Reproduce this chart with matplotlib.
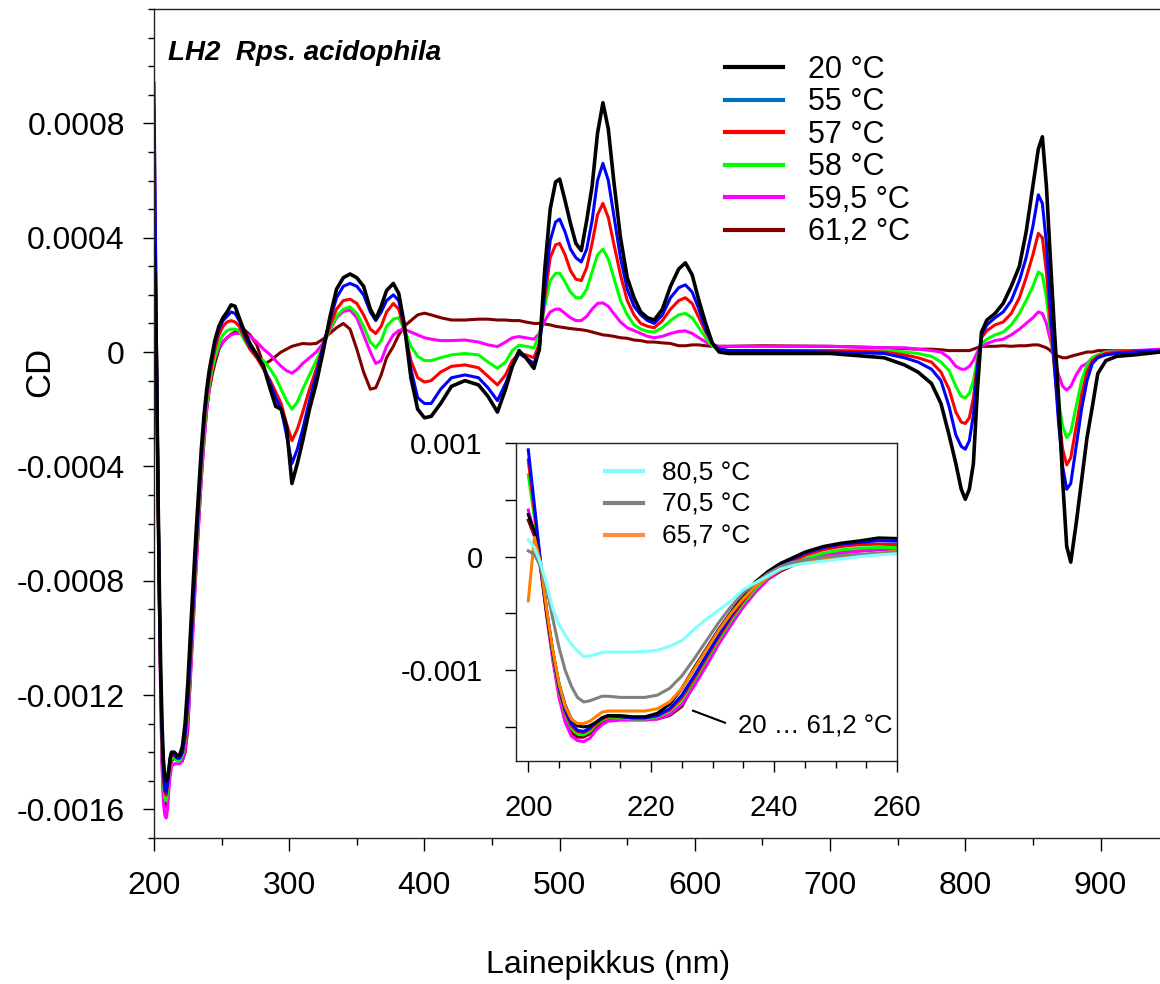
import numpy as np
import matplotlib
matplotlib.use("Agg")
import matplotlib.pyplot as plt
from matplotlib.lines import Line2D
from matplotlib.ticker import MultipleLocator, FixedLocator, FuncFormatter

plt.rcParams['font.family'] = ['Liberation Sans', 'DejaVu Sans']

SCALE = 1e-4  # CD values below are in units of 1e-4

# wavelength grid (nm): dense UV part (also used by the inset) + visible/NIR part
wl_uv = [200, 201, 202, 203, 204, 205, 206, 207, 208, 209,
         210, 211, 212, 213, 215, 217, 219, 221, 223, 225,
         227, 229, 231, 233, 235, 237, 239, 241, 243, 245,
         248, 251, 254, 257, 260]
wl_vis = [263, 267, 271, 276, 281, 286, 290, 294, 298, 302,
          306, 310, 315, 320, 325, 330, 335, 340, 345, 350,
          355, 360, 364, 368, 372, 377, 381, 385, 390, 395,
          400, 405, 412, 420, 430, 440, 447, 454, 460, 465,
          470, 475, 481, 485, 489, 493, 497, 500, 504, 508,
          512, 516, 520, 524, 528, 532, 536, 540, 545, 550,
          555, 560, 565, 570, 576, 582, 588, 593, 598, 603,
          608, 613, 618, 625, 650, 700, 740, 755, 765, 775,
          782, 788, 793, 797, 800, 803, 806, 809, 812, 816,
          822, 828, 834, 840, 845, 850, 854, 857, 860, 863,
          866, 869, 872, 875, 878, 882, 886, 890, 894, 898,
          904, 912, 925, 944]

# 20 C
cd20_uv = [3.7, 2.2, -0.8, -5.0, -8.4, -11.2, -13.1, -14.3, -14.9, -15.0,
           -14.9, -14.6, -14.2, -14.0, -14.0, -14.1, -14.1, -13.8, -13.0, -11.6,
           -9.8, -8.1, -6.4, -4.9, -3.4, -2.2, -1.3, -0.6, -0.1, 0.4,
           0.9, 1.2, 1.4, 1.65, 1.6]
cd20_vis = [1.2, 0.7, 0.3, -0.1, -0.5, -1.3, -1.9, -2.0, -2.6, -4.6,
            -3.9, -3.1, -2.0, -1.1, 0.0, 1.2, 2.2, 2.6, 2.73, 2.6,
            2.3, 1.5, 1.15, 1.6, 2.15, 2.4, 2.05, 1.0, -0.9, -2.0,
            -2.3, -2.25, -1.8, -1.2, -1.0, -1.15, -1.55, -2.1, -1.3, -0.5,
            0.05, -0.2, -0.57, 0.1, 2.9, 5.0, 5.95, 6.05, 5.3, 4.5,
            3.8, 3.55, 4.6, 5.8, 7.65, 8.72, 7.8, 6.0, 4.0, 2.6,
            1.9, 1.4, 1.2, 1.12, 1.5, 2.3, 2.9, 3.12, 2.7, 1.8,
            1.0, 0.3, 0.0, -0.05, -0.05, -0.05, -0.2, -0.45, -0.7, -1.1,
            -1.8, -2.9, -3.9, -4.8, -5.15, -4.8, -3.9, -1.3, 0.7, 1.12,
            1.35, 1.7, 2.3, 3.0, 4.2, 5.8, 7.1, 7.53, 5.8, 3.2,
            0.7, -1.6, -4.5, -6.8, -7.35, -6.0, -4.5, -3.0, -1.9, -0.75,
            -0.3, -0.15, -0.1, 0.0]

# 55 C
cd55_uv = [9.4, 4.5, -0.5, -4.8, -8.5, -11.5, -13.5, -14.7, -15.3, -15.4,
           -15.1, -14.6, -14.2, -14.0, -14.1, -14.2, -14.2, -14.0, -13.4, -12.2,
           -10.5, -8.7, -6.9, -5.2, -3.7, -2.4, -1.4, -0.7, -0.2, 0.3,
           0.8, 1.1, 1.25, 1.4, 1.35]
cd55_vis = [1.1, 0.6, 0.2, -0.1, -0.5, -1.1, -1.6, -2.0, -2.9, -3.9,
            -3.4, -2.7, -1.7, -0.8, 0.2, 1.1, 1.9, 2.3, 2.4, 2.3,
            2.0, 1.4, 1.1, 1.4, 1.8, 2.0, 1.8, 0.9, -0.6, -1.6,
            -1.8, -1.8, -1.3, -0.9, -0.8, -0.9, -1.25, -1.7, -1.1, -0.5,
            -0.05, -0.2, -0.4, 0.1, 2.2, 3.9, 4.55, 4.65, 4.2, 3.6,
            3.3, 3.15, 3.6, 4.6, 6.0, 6.6, 6.0, 4.8, 3.3, 2.2,
            1.6, 1.3, 1.1, 1.0, 1.3, 1.9, 2.25, 2.35, 2.1, 1.5,
            0.8, 0.3, 0.1, 0.05, 0.05, 0.0, -0.05, -0.2, -0.35, -0.6,
            -1.0, -1.9, -2.9, -3.3, -3.4, -3.1, -2.2, -0.5, 0.6, 0.95,
            1.2, 1.4, 1.8, 2.5, 3.3, 4.4, 5.5, 5.2, 3.8, 1.5,
            -0.5, -2.5, -4.0, -4.8, -4.6, -3.3, -2.0, -1.0, -0.4, -0.2,
            -0.1, -0.05, 0.0, 0.05]

# 57 C
cd57_uv = [8.5, 4.0, -0.6, -4.9, -8.6, -11.6, -13.7, -14.9, -15.4, -15.5,
           -15.2, -14.7, -14.3, -14.1, -14.1, -14.2, -14.2, -14.0, -13.5, -12.4,
           -10.7, -8.9, -7.1, -5.4, -3.9, -2.6, -1.6, -0.9, -0.4, 0.1,
           0.6, 0.9, 1.05, 1.1, 1.05]
cd57_vis = [0.9, 0.5, 0.1, -0.2, -0.6, -1.0, -1.4, -1.8, -2.5, -3.1,
            -2.7, -2.1, -1.3, -0.6, 0.2, 0.9, 1.5, 1.8, 1.85, 1.7,
            1.3, 0.8, 0.65, 0.9, 1.4, 1.7, 1.5, 0.8, -0.3, -0.9,
            -1.05, -1.0, -0.7, -0.5, -0.45, -0.55, -0.85, -1.15, -0.8, -0.3,
            -0.05, -0.1, -0.2, 0.3, 1.9, 3.3, 3.75, 3.8, 3.4, 2.85,
            2.55, 2.5, 2.95, 3.8, 4.8, 5.2, 4.7, 3.8, 2.7, 1.8,
            1.3, 1.0, 0.9, 0.85, 1.1, 1.5, 1.8, 1.9, 1.7, 1.2,
            0.7, 0.3, 0.1, 0.05, 0.05, 0.05, 0.0, -0.1, -0.2, -0.35,
            -0.7, -1.3, -2.1, -2.45, -2.5, -2.3, -1.6, -0.4, 0.5, 0.75,
            0.95, 1.05, 1.35, 1.9, 2.6, 3.4, 4.15, 4.0, 2.8, 1.0,
            -0.6, -2.2, -3.4, -3.95, -3.7, -2.6, -1.5, -0.7, -0.3, -0.15,
            -0.05, 0.0, 0.05, 0.05]

# 58 C
cd58_uv = [7.2, 3.4, -0.7, -5.0, -8.8, -11.8, -13.9, -15.1, -15.6, -15.7,
           -15.4, -14.8, -14.4, -14.2, -14.2, -14.3, -14.3, -14.1, -13.6, -12.6,
           -10.9, -9.1, -7.3, -5.6, -4.1, -2.8, -1.8, -1.1, -0.6, -0.2,
           0.3, 0.6, 0.75, 0.8, 0.8]
cd58_vis = [0.75, 0.4, 0.1, -0.2, -0.3, -0.6, -0.9, -1.3, -1.7, -2.0,
            -1.75, -1.3, -0.8, -0.3, 0.2, 0.8, 1.25, 1.5, 1.58, 1.35,
            0.9, 0.35, 0.15, 0.4, 0.9, 1.15, 1.2, 0.8, 0.2, -0.15,
            -0.3, -0.3, -0.2, -0.1, -0.05, -0.1, -0.35, -0.57, -0.35, 0.05,
            0.24, 0.2, 0.15, 0.6, 1.6, 2.5, 2.75, 2.76, 2.45, 2.1,
            1.9, 1.9, 2.2, 2.8, 3.4, 3.6, 3.25, 2.6, 1.8, 1.3,
            0.95, 0.8, 0.72, 0.7, 0.85, 1.1, 1.3, 1.35, 1.2, 0.85,
            0.5, 0.2, 0.1, 0.05, 0.05, 0.05, 0.05, 0.0, -0.05, -0.15,
            -0.35, -0.65, -1.2, -1.55, -1.6, -1.45, -1.0, -0.2, 0.3, 0.45,
            0.6, 0.7, 0.95, 1.35, 1.8, 2.3, 2.8, 2.7, 1.9, 0.7,
            -0.5, -1.7, -2.6, -3.0, -2.8, -1.9, -1.0, -0.45, -0.2, -0.1,
            0.0, 0.0, 0.05, 0.05]

# 59,5 C
cd595_uv = [4.1, 2.0, -1.0, -5.3, -9.2, -12.4, -14.6, -15.8, -16.2, -16.3,
            -16.0, -15.3, -14.8, -14.5, -14.4, -14.4, -14.4, -14.3, -13.9, -13.0,
            -11.4, -9.6, -7.7, -6.0, -4.4, -3.1, -2.0, -1.2, -0.6, -0.2,
            0.15, 0.35, 0.5, 0.6, 0.65]
cd595_vis = [0.65, 0.65, 0.55, 0.35, 0.1, -0.1, -0.3, -0.5, -0.65, -0.74,
             -0.6, -0.4, -0.2, 0.0, 0.3, 0.75, 1.2, 1.42, 1.47, 1.2,
             0.6, 0.0, -0.4, -0.3, 0.2, 0.6, 0.75, 0.8, 0.7, 0.6,
             0.5, 0.45, 0.4, 0.4, 0.42, 0.35, 0.25, 0.19, 0.35, 0.5,
             0.54, 0.5, 0.45, 0.65, 1.1, 1.4, 1.5, 1.5, 1.35, 1.2,
             1.1, 1.1, 1.25, 1.5, 1.7, 1.72, 1.6, 1.35, 1.05, 0.85,
             0.75, 0.65, 0.55, 0.5, 0.55, 0.65, 0.72, 0.74, 0.65, 0.5,
             0.35, 0.25, 0.2, 0.2, 0.2, 0.2, 0.15, 0.15, 0.1, 0.05,
             0.0, -0.2, -0.5, -0.6, -0.6, -0.5, -0.3, 0.0, 0.2, 0.3,
             0.4, 0.45, 0.6, 0.8, 1.0, 1.2, 1.4, 1.35, 1.0, 0.4,
             -0.2, -0.8, -1.2, -1.33, -1.2, -0.8, -0.5, -0.4, -0.2, -0.1,
             0.0, 0.05, 0.05, 0.1]

# 61,2 C
cd612_uv = [3.2, 1.8, -1.0, -5.0, -8.8, -12.0, -14.3, -15.5, -15.9, -15.9,
            -15.6, -15.0, -14.5, -14.3, -14.2, -14.2, -14.3, -14.3, -14.0, -13.2,
            -11.2, -9.4, -7.6, -6.0, -4.4, -3.1, -2.0, -1.3, -0.8, -0.4,
            0.1, 0.35, 0.5, 0.62, 0.7]
cd612_vis = [0.75, 0.77, 0.6, 0.25, -0.45, -0.3, -0.15, 0.0, 0.1, 0.2,
             0.25, 0.3, 0.28, 0.3, 0.45, 0.65, 0.85, 1.0, 0.8, 0.1,
             -0.7, -1.3, -1.25, -0.8, -0.2, 0.2, 0.6, 0.9, 1.1, 1.3,
             1.36, 1.3, 1.2, 1.12, 1.12, 1.15, 1.15, 1.12, 1.12, 1.1,
             1.1, 1.05, 1.0, 1.0, 0.98, 0.95, 0.9, 0.88, 0.85, 0.82,
             0.8, 0.78, 0.75, 0.7, 0.65, 0.6, 0.58, 0.55, 0.5, 0.48,
             0.42, 0.4, 0.35, 0.35, 0.32, 0.3, 0.22, 0.22, 0.25, 0.25,
             0.22, 0.2, 0.2, 0.2, 0.22, 0.2, 0.15, 0.12, 0.1, 0.1,
             0.08, 0.05, 0.05, 0.05, 0.05, 0.05, 0.1, 0.15, 0.2, 0.2,
             0.2, 0.22, 0.2, 0.22, 0.22, 0.25, 0.25, 0.2, 0.15, 0.05,
             -0.1, -0.15, -0.2, -0.2, -0.15, -0.1, -0.05, 0.0, 0.0, 0.05,
             0.05, 0.05, 0.05, 0.05]

# inset-only series (UV grid)
cd657_uv = [-3.9, 1.7, -0.6, -4.7, -8.3, -11.2, -13.2, -14.3, -14.7, -14.7,
            -14.5, -14.1, -13.7, -13.6, -13.6, -13.6, -13.6, -13.4, -12.8, -11.6,
            -9.9, -8.2, -6.5, -5.0, -3.7, -2.6, -1.75, -1.15, -0.75, -0.5,
            -0.25, -0.05, 0.1, 0.3, 0.5]
cd705_uv = [0.5, 0.2, -0.9, -2.8, -5.5, -8.0, -10.0, -11.4, -12.4, -12.8,
            -12.7, -12.5, -12.3, -12.3, -12.4, -12.4, -12.4, -12.2, -11.6, -10.5,
            -9.0, -7.4, -5.8, -4.4, -3.2, -2.3, -1.5, -0.9, -0.5, -0.3,
            -0.05, 0.1, 0.2, 0.3, 0.4]
cd805_uv = [1.5, 0.8, -0.6, -2.5, -4.6, -6.0, -6.9, -7.7, -8.3, -8.8,
            -8.75, -8.6, -8.45, -8.4, -8.4, -8.4, -8.35, -8.25, -7.9, -7.4,
            -6.4, -5.5, -4.7, -3.9, -2.9, -2.3, -1.7, -1.1, -0.8, -0.6,
            -0.4, -0.2, 0.0, 0.15, 0.25]

main_labels = ['20 °C', '55 °C', '57 °C', '58 °C', '59,5 °C', '61,2 °C']
main_colors = ['#000000', '#0000ff', '#ff0000', '#00ff00', '#ff00ff', '#800000']
legend_colors = ['#000000', '#0070c0', '#ff0000', '#00ff00', '#ff00ff', '#800000']
main_series = [cd20_uv + cd20_vis, cd55_uv + cd55_vis, cd57_uv + cd57_vis,
               cd58_uv + cd58_vis, cd595_uv + cd595_vis, cd612_uv + cd612_vis]
extra_labels = ['80,5 °C', '70,5 °C', '65,7 °C']
extra_colors = ['#80ffff', '#808080', '#ff8000']
extra_legend_colors = ['#80ffff', '#808080', '#ff8c40']
extra_series = [cd805_uv, cd705_uv, cd657_uv]

wl = np.array(wl_uv + wl_vis)
uv = np.array(wl_uv)

W, H = 1160, 984
fig = plt.figure(figsize=(W / 100, H / 100), dpi=100)
ax = fig.add_axes([154 / W, 1 - 838 / H, 1 - 154 / W, (838 - 9) / H])

# draw from warmest to coldest so black ends on top
for vals, col in reversed(list(zip(main_series, main_colors))):
    lw = 2.6 if col == '#000000' else 2.2
    ax.plot(wl, np.array(vals) * SCALE, color=col, lw=lw)

ax.set_xlim(200, 944)
ax.set_ylim(-0.0017, 0.0012)
ax.xaxis.set_major_locator(MultipleLocator(100))
ax.xaxis.set_minor_locator(MultipleLocator(50))
ax.yaxis.set_major_locator(FixedLocator([-0.0016, -0.0012, -0.0008, -0.0004, 0, 0.0004, 0.0008]))
ax.yaxis.set_minor_locator(MultipleLocator(0.0001))
ax.yaxis.set_major_formatter(FuncFormatter(lambda v, p: '0' if abs(v) < 1e-9 else '%g' % v))
ax.tick_params(axis='both', which='major', direction='out', labelsize=23, width=1)
ax.tick_params(axis='x', which='major', length=9, pad=15)
ax.tick_params(axis='x', which='minor', length=5, width=1)
ax.tick_params(axis='y', which='major', length=8, pad=13)
ax.tick_params(axis='y', which='minor', length=4.5, width=1)
ax.spines['right'].set_visible(False)
for s in ['left', 'bottom', 'top']:
    ax.spines[s].set_linewidth(1.0)
    ax.spines[s].set_color('#222222')

fig.text(40 / W, 1 - 372 / H, 'CD', rotation=90, fontsize=25, ha='center', va='center')
fig.text(608 / W, 1 - 965 / H, 'Lainepikkus (nm)', fontsize=23, ha='center', va='center')
fig.text(168 / W, 1 - 60 / H, 'LH2  Rps. acidophila', fontsize=20,
         fontweight='bold', fontstyle='italic', ha='left', va='baseline')

handles = [Line2D([], [], color=c, lw=3) for c in legend_colors]
fig.legend(handles, main_labels, loc='upper left', bbox_to_anchor=(725 / W, 1 - 55 / H),
           frameon=False, fontsize=22, handlelength=1.9, handletextpad=0.8,
           labelspacing=0.08, borderpad=0, borderaxespad=0)

# inset: far-UV region
ins = fig.add_axes([516 / W, 1 - 761 / H, (897 - 516) / W, (761 - 443) / H])
ins.set_facecolor('white')
for vals, col in reversed(list(zip(main_series, main_colors))):
    ins.plot(wl, np.array(vals) * SCALE, color=col, lw=2.2)
for vals, col in reversed(list(zip(extra_series, extra_colors))):
    ins.plot(uv, np.array(vals) * SCALE, color=col, lw=2.2)
ins.set_xlim(198, 260)
ins.set_ylim(-0.0018, 0.001)
ins.xaxis.set_major_locator(MultipleLocator(20))
ins.xaxis.set_minor_locator(MultipleLocator(5))
ins.yaxis.set_major_locator(FixedLocator([-0.001, 0, 0.001]))
ins.yaxis.set_minor_locator(FixedLocator([-0.0015, -0.0005, 0.0005]))
ins.yaxis.set_major_formatter(FuncFormatter(lambda v, p: '0' if abs(v) < 1e-9 else '%g' % v))
ins.tick_params(axis='both', which='major', direction='out', labelsize=21, width=1)
ins.tick_params(axis='x', which='major', length=8, pad=16)
ins.tick_params(axis='x', which='minor', length=5, width=1, direction='out')
ins.tick_params(axis='y', which='major', length=8, pad=16)
ins.tick_params(axis='y', which='minor', length=8, width=1, direction='out')
for s in ins.spines.values():
    s.set_linewidth(1.0)
    s.set_color('#222222')

ins.plot([226.8, 232.0], [-0.001357, -0.001463], color='black', lw=1.5)
ins.text(234.1, -0.0015, '20 … 61,2 °C', fontsize=18.5, ha='left', va='center')

ihandles = [Line2D([], [], color=c, lw=3) for c in extra_legend_colors]
fig.legend(ihandles, extra_labels, loc='upper left', bbox_to_anchor=(605 / W, 1 - 461 / H),
           frameon=False, fontsize=19, handlelength=1.45, handletextpad=0.72,
           labelspacing=0.3, borderpad=0, borderaxespad=0)

fig.savefig('out.png', dpi=100)
